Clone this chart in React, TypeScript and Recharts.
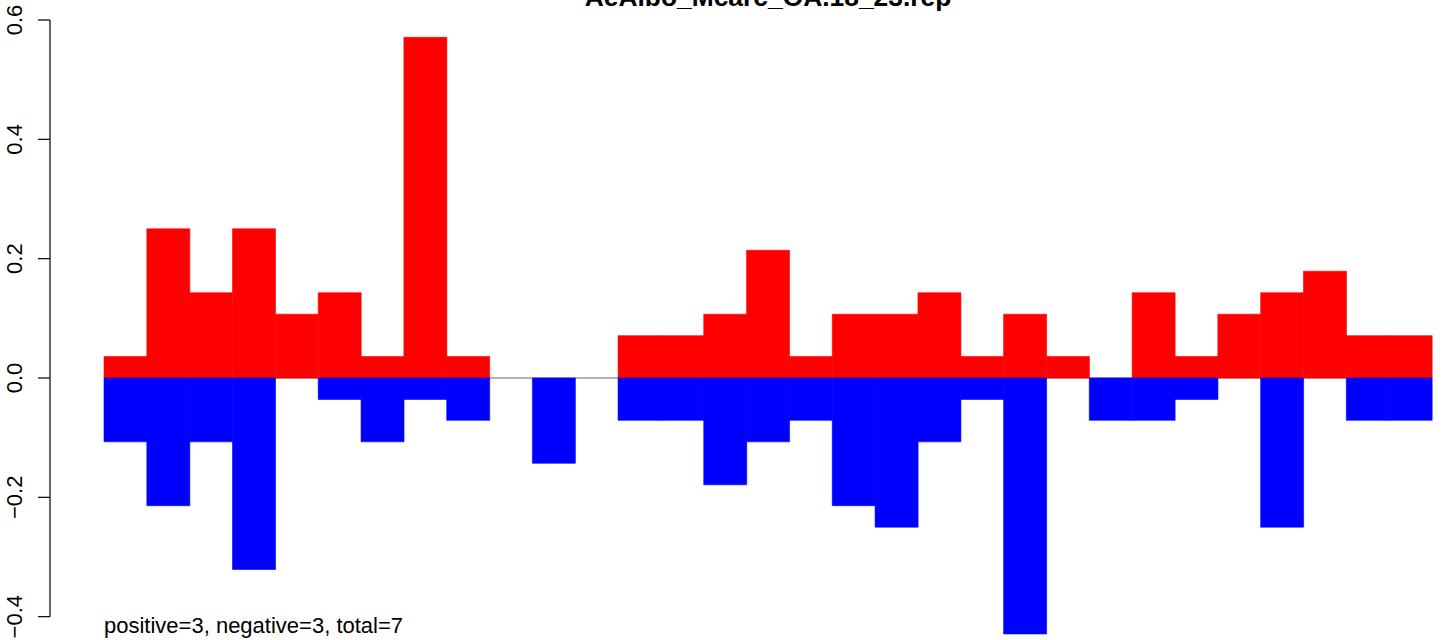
import React from "react";
import { Bar, BarChart, CartesianGrid, XAxis, YAxis } from "recharts";

const categories = [
  "1", "2", "3", "4", "5", "6", "7", "8", "9", "10", "11", "12", "13", "14", "15", "16",
  "17", "18", "19", "20", "21", "22", "23", "24", "25", "26", "27", "28", "29", "30", "31",
];
const positive = [
  0.036, 0.25, 0.143, 0.25, 0.107, 0.143, 0.036, 0.571, 0.036, 0, 0, 0, 0.071, 0.071, 0.107, 0.214,
  0.036, 0.107, 0.107, 0.143, 0.036, 0.107, 0.036, 0, 0.143, 0.036, 0.107, 0.143, 0.179, 0.071, 0.071,
];
const negative = [
  -0.107, -0.214, -0.107, -0.321, 0, -0.036, -0.107, -0.036, -0.071, 0, -0.143, 0, -0.071, -0.071, -0.179, -0.107,
  -0.071, -0.214, -0.25, -0.107, -0.036, -0.429, 0, -0.071, -0.071, -0.036, 0, -0.25, 0, -0.071, -0.071,
];
const yTicks = [-0.4, -0.2, 0, 0.2, 0.4, 0.6];
const title = "AeAlbo_Mcarc_OA.18_23.rep";
const footnote = "positive=3, negative=3, total=7";

const W = 1444;
const H = 640;
const TOP = 20;
const Y_MIN = -0.4391;
const Y_MAX = 0.6;
const pxPerUnit = (H - TOP) / (Y_MAX - Y_MIN);
const AXIS_X = 50;
const FONT = "'Liberation Sans', Arial, sans-serif";

const data = categories.map((c, i) => ({ name: c, pos: positive[i], neg: negative[i] }));

function Tick(props: any) {
  const { y, payload } = props;
  const v = payload.value as number;
  const label = v === 0 ? "0.0" : v < 0 ? "\u2212" + Math.abs(v).toFixed(1) : v.toFixed(1);
  const step = 0.2 * pxPerUnit;
  return (
    <g>
      {v < Y_MAX - 0.01 && (
        <line x1={AXIS_X} x2={AXIS_X} y1={y} y2={y - step} stroke="#000" strokeWidth={1.2} />
      )}
      <line x1={AXIS_X - 12} x2={AXIS_X} y1={y} y2={y} stroke="#000" strokeWidth={1.2} />
      <text
        x={22}
        y={y}
        transform={`rotate(-90, 22, ${y})`}
        textAnchor="middle"
        fontSize={22}
        fontFamily={FONT}
        fill="#000"
      >
        {label}
      </text>
    </g>
  );
}

export default function App() {
  return (
    <div style={{ position: "absolute", left: 0, top: 0, width: W, height: H, background: "#fff" }}>
      <BarChart
        width={W}
        height={H}
        data={data}
        stackOffset="sign"
        barCategoryGap={0}
        margin={{ top: TOP, right: 12, bottom: 0, left: 0 }}
      >
        <XAxis dataKey="name" hide />
        <YAxis
          width={104}
          type="number"
          domain={[Y_MIN, Y_MAX]}
          ticks={yTicks}
          allowDataOverflow
          axisLine={false}
          tickLine={false}
          tick={<Tick />}
          interval={0}
        />
        {/* zero line sits behind the bars, only visible in the gaps */}
        <CartesianGrid vertical={false} horizontalValues={[0]} stroke="#9a9a9a" strokeWidth={1.3} />
        <Bar dataKey="pos" stackId="a" fill="#ff0000" stroke="#ff0000" strokeWidth={0.6} isAnimationActive={false} />
        <Bar dataKey="neg" stackId="a" fill="#0000ff" stroke="#0000ff" strokeWidth={0.6} isAnimationActive={false} />
      </BarChart>
      <div
        style={{
          position: "absolute",
          left: 104,
          width: 1328,
          top: -18,
          textAlign: "center",
          fontFamily: FONT,
          fontWeight: "bold",
          fontSize: 26.4,
          lineHeight: "30px",
          whiteSpace: "nowrap",
        }}
      >
        {title}
      </div>
      <div
        style={{
          position: "absolute",
          left: 104,
          top: 614,
          fontFamily: FONT,
          fontSize: 22,
          lineHeight: "24px",
          whiteSpace: "nowrap",
        }}
      >
        {footnote}
      </div>
    </div>
  );
}
